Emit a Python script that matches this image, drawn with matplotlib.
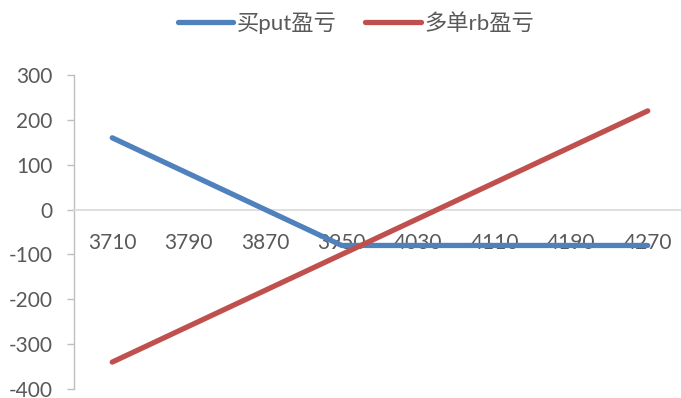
import numpy as np
import matplotlib.pyplot as plt

plt.rcParams['font.family'] = ['Lato', 'Noto Sans CJK SC', 'DejaVu Sans']
plt.rcParams['axes.unicode_minus'] = False

# Price levels and P&L of each leg
prices = ['3710', '3790', '3870', '3950', '4030', '4110', '4190', '4270']
put_pnl = [160, 80, 0, -80, -80, -80, -80, -80]
rb_pnl = [-340, -260, -180, -100, -20, 60, 140, 220]

text_color = '#595959'

fig = plt.figure(figsize=(6.81, 3.98), dpi=100)
ax = fig.add_axes([74 / 681, 1 - 389 / 398, 612 / 681, 314 / 398])

x = np.arange(len(prices))
ax.plot(x, put_pnl, color='#4F81BD', lw=3.8, solid_capstyle='round',
        solid_joinstyle='round', label='买put盈亏', zorder=3)
ax.plot(x, rb_pnl, color='#C0504D', lw=3.8, solid_capstyle='round',
        solid_joinstyle='round', label='多单rb盈亏', zorder=3)

ax.set_xlim(-0.5, len(prices) - 0.5)
ax.set_ylim(-400, 300)
ax.set_yticks(np.arange(-400, 301, 100))
ax.set_xticks(x)
ax.set_xticklabels(prices)

# x axis crosses at zero, category labels sit just under it
ax.spines['bottom'].set_position(('data', 0))
ax.spines['bottom'].set_color('#D9D9D9')
ax.spines['bottom'].set_linewidth(1.2)
ax.spines['left'].set_color('#BFBFBF')
ax.spines['left'].set_linewidth(1.0)
ax.spines['top'].set_visible(False)
ax.spines['right'].set_visible(False)

ax.tick_params(axis='x', length=0, pad=17, labelsize=15, labelcolor=text_color)
ax.tick_params(axis='y', length=5, width=1.0, color='#BFBFBF', pad=10.5,
               labelsize=15, labelcolor=text_color)

leg = fig.legend(loc='center', bbox_to_anchor=(356 / 681, 1 - 23 / 398), ncol=2,
                 frameon=False, fontsize=16, handlelength=2.5,
                 handletextpad=0.15, columnspacing=1.3)
for t in leg.get_texts():
    t.set_color(text_color)

fig.savefig('out.png', dpi=100)
